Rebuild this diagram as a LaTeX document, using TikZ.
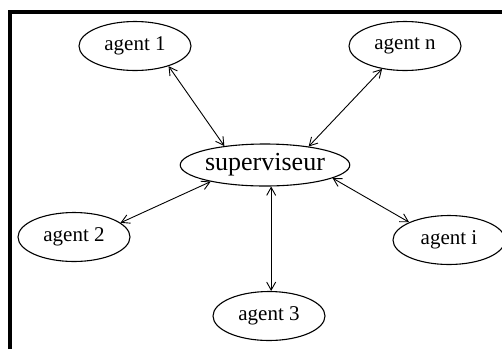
\documentclass[tikz,border=0pt]{standalone}
\usepackage{fontspec}
\setmainfont{Liberation Serif}
\usetikzlibrary{shapes.geometric,arrows.meta,calc}
\begin{document}
\begin{tikzpicture}[x=1pt,y=-1pt,
  agent/.style={ellipse,draw,line width=1.1pt,inner sep=0pt,
    minimum width=112pt,minimum height=49pt,
    font=\fontsize{21}{21}\selectfont},
  boss/.style={ellipse,draw,line width=1.1pt,inner sep=0pt,
    minimum width=168pt,minimum height=42pt,
    font=\fontsize{26}{26}\selectfont},
  link/.style={line width=0.9pt,
    {Straight Barb[length=8pt,width=9pt]}-{Straight Barb[length=8pt,width=9pt]}}]
  \useasboundingbox (0,0) rectangle (502,349);
  \fill[white] (0,0) rectangle (502,349);
  % frame (top and left edges)
  \draw[line width=4pt] (10,349) -- (10,11.5) -- (502,11.5);
  % nodes
  \node[boss]  (sup) at (265,165) {superviseur};
  \node[agent] (a1)  at (135,46)  {agent 1};
  \node[agent] (an)  at (405,46)  {agent n};
  \node[agent] (a2)  at (74,237)  {agent 2};
  \node[agent] (ai)  at (449,240) {agent i};
  \node[agent] (a3)  at (269,316) {agent 3};
  % links
  \draw[link] (a1.-31)  -- (sup.155);
  \draw[link] (an.-135) -- (sup.23);
  \draw[link] (sup.197) -- (a2.17);
  \draw[link] (sup.-74) -- (a3.north -| sup.-74);
  \draw[link] (sup.-11) -- (ai.156);
\end{tikzpicture}
\end{document}
